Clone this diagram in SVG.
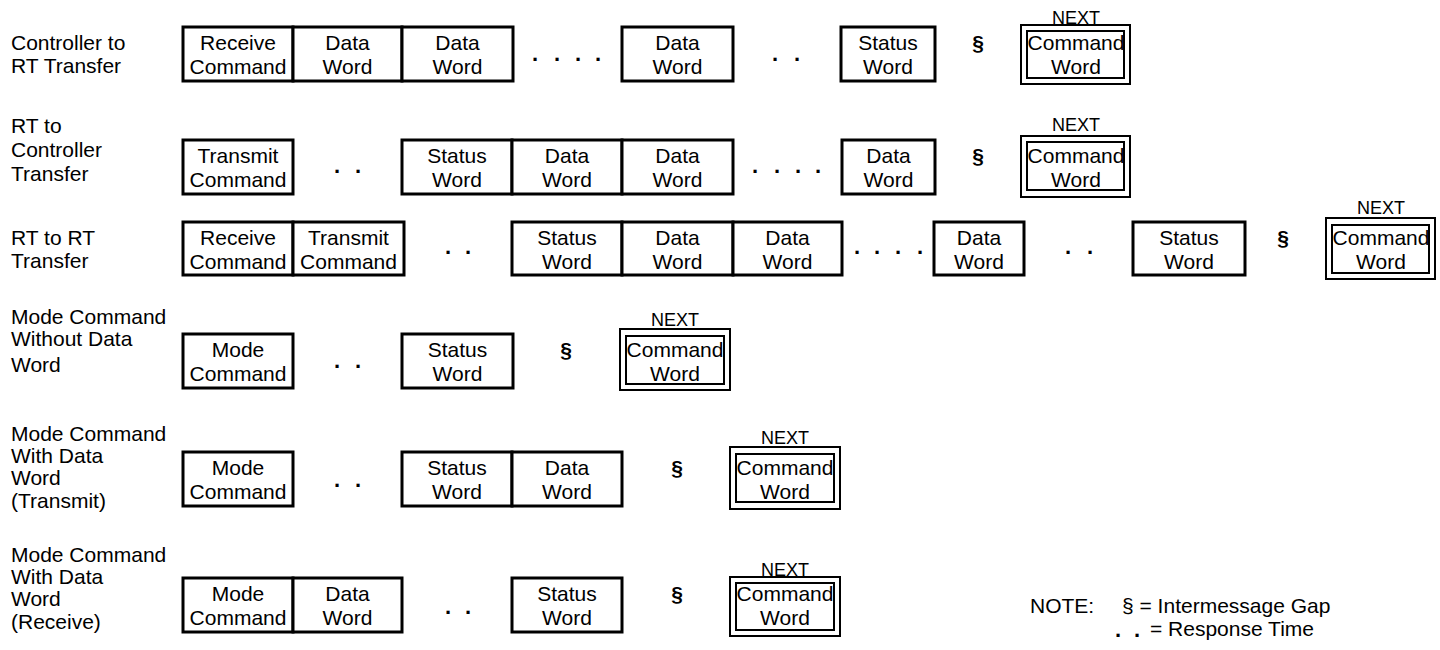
<svg xmlns="http://www.w3.org/2000/svg" width="1440" height="650" viewBox="0 0 1440 650">
<style>
text{font-family:"Liberation Sans",Arial,sans-serif;font-size:21px;fill:#000}
.c{text-anchor:middle}
.b{fill:#fff;stroke:#000;stroke-width:3}
.o{fill:#fff;stroke:#000;stroke-width:2}
.i{fill:none;stroke:#000;stroke-width:2}
.s{font-weight:bold;text-anchor:middle}
.d{font-weight:bold;font-size:22px;text-anchor:middle}
.n{font-size:18px;text-anchor:middle}
</style>
<rect width="1440" height="650" fill="#fff"/>

<g id="labels">
<text x="11" y="50">Controller to</text>
<text x="11" y="73">RT Transfer</text>
<text x="11" y="133">RT to</text>
<text x="11" y="157">Controller</text>
<text x="11" y="181">Transfer</text>
<text x="11" y="245">RT to RT</text>
<text x="11" y="268">Transfer</text>
<text x="11" y="324">Mode Command</text>
<text x="11" y="346">Without Data</text>
<text x="11" y="372">Word</text>
<text x="11" y="441">Mode Command</text>
<text x="11" y="463">With Data</text>
<text x="11" y="485">Word</text>
<text x="11" y="508">(Transmit)</text>
<text x="11" y="562">Mode Command</text>
<text x="11" y="584">With Data</text>
<text x="11" y="606">Word</text>
<text x="11" y="629">(Receive)</text>
</g>

<!-- Row 1 -->
<g id="r1-receive-command"><rect class="b" x="183" y="27" width="110" height="54"/><text class="c" x="238" y="50">Receive</text><text class="c" x="238" y="74">Command</text></g>
<g id="r1-data-1"><rect class="b" x="293" y="27" width="109" height="54"/><text class="c" x="347.5" y="50">Data</text><text class="c" x="347.5" y="74">Word</text></g>
<g id="r1-data-2"><rect class="b" x="402" y="27" width="111" height="54"/><text class="c" x="457.5" y="50">Data</text><text class="c" x="457.5" y="74">Word</text></g>
<text class="d" x="535 557 578 598" y="61">....</text>
<g id="r1-data-n"><rect class="b" x="622" y="27" width="111" height="54"/><text class="c" x="677.5" y="50">Data</text><text class="c" x="677.5" y="74">Word</text></g>
<text class="d" x="775 797" y="61">..</text>
<g id="r1-status"><rect class="b" x="841" y="27" width="94" height="54"/><text class="c" x="888" y="50">Status</text><text class="c" x="888" y="74">Word</text></g>
<text class="s" x="978" y="50">§</text>
<g id="r1-next"><text class="n" x="1076" y="24">NEXT</text><rect class="o" x="1021" y="25" width="109" height="59"/><rect class="i" x="1027" y="31" width="97" height="47"/><text class="c" x="1076" y="50">Command</text><text class="c" x="1076" y="74">Word</text></g>

<!-- Row 2 -->
<g id="r2-transmit-command"><rect class="b" x="183" y="140" width="110" height="54"/><text class="c" x="238" y="163">Transmit</text><text class="c" x="238" y="187">Command</text></g>
<text class="d" x="337 358" y="173">..</text>
<g id="r2-status"><rect class="b" x="402" y="140" width="110" height="54"/><text class="c" x="457" y="163">Status</text><text class="c" x="457" y="187">Word</text></g>
<g id="r2-data-1"><rect class="b" x="512" y="140" width="110" height="54"/><text class="c" x="567" y="163">Data</text><text class="c" x="567" y="187">Word</text></g>
<g id="r2-data-2"><rect class="b" x="622" y="140" width="111" height="54"/><text class="c" x="677.5" y="163">Data</text><text class="c" x="677.5" y="187">Word</text></g>
<text class="d" x="755 777 798 818" y="173">....</text>
<g id="r2-data-n"><rect class="b" x="842" y="140" width="93" height="54"/><text class="c" x="888.5" y="163">Data</text><text class="c" x="888.5" y="187">Word</text></g>
<text class="s" x="978" y="163">§</text>
<g id="r2-next"><text class="n" x="1076" y="131">NEXT</text><rect class="o" x="1021" y="136" width="109" height="61"/><rect class="i" x="1027" y="142" width="97" height="48"/><text class="c" x="1076" y="163">Command</text><text class="c" x="1076" y="187">Word</text></g>

<!-- Row 3 -->
<g id="r3-receive-command"><rect class="b" x="183" y="222" width="110" height="53"/><text class="c" x="238" y="245">Receive</text><text class="c" x="238" y="269">Command</text></g>
<g id="r3-transmit-command"><rect class="b" x="293" y="222" width="111" height="53"/><text class="c" x="348.5" y="245">Transmit</text><text class="c" x="348.5" y="269">Command</text></g>
<text class="d" x="448 468" y="254">..</text>
<g id="r3-status-1"><rect class="b" x="512" y="222" width="110" height="53"/><text class="c" x="567" y="245">Status</text><text class="c" x="567" y="269">Word</text></g>
<g id="r3-data-1"><rect class="b" x="622" y="222" width="111" height="53"/><text class="c" x="677.5" y="245">Data</text><text class="c" x="677.5" y="269">Word</text></g>
<g id="r3-data-2"><rect class="b" x="733" y="222" width="109" height="53"/><text class="c" x="787.5" y="245">Data</text><text class="c" x="787.5" y="269">Word</text></g>
<text class="d" x="857 877 898 920" y="254">....</text>
<g id="r3-data-n"><rect class="b" x="934" y="222" width="90" height="53"/><text class="c" x="979" y="245">Data</text><text class="c" x="979" y="269">Word</text></g>
<text class="d" x="1068 1090" y="254">..</text>
<g id="r3-status-2"><rect class="b" x="1133" y="222" width="112" height="53"/><text class="c" x="1189" y="245">Status</text><text class="c" x="1189" y="269">Word</text></g>
<text class="s" x="1283" y="245">§</text>
<g id="r3-next"><text class="n" x="1381" y="214">NEXT</text><rect class="o" x="1326" y="218" width="109" height="61"/><rect class="i" x="1332" y="225" width="97" height="48"/><text class="c" x="1381" y="245">Command</text><text class="c" x="1381" y="269">Word</text></g>

<!-- Row 4 -->
<g id="r4-mode-command"><rect class="b" x="183" y="334" width="110" height="54"/><text class="c" x="238" y="357">Mode</text><text class="c" x="238" y="381">Command</text></g>
<text class="d" x="337 358" y="368">..</text>
<g id="r4-status"><rect class="b" x="402" y="334" width="111" height="54"/><text class="c" x="457.5" y="357">Status</text><text class="c" x="457.5" y="381">Word</text></g>
<text class="s" x="566" y="357">§</text>
<g id="r4-next"><text class="n" x="675" y="326">NEXT</text><rect class="o" x="620" y="329" width="110" height="61"/><rect class="i" x="626" y="336" width="98" height="48"/><text class="c" x="675" y="357">Command</text><text class="c" x="675" y="381">Word</text></g>

<!-- Row 5 -->
<g id="r5-mode-command"><rect class="b" x="183" y="452" width="110" height="54"/><text class="c" x="238" y="475">Mode</text><text class="c" x="238" y="499">Command</text></g>
<text class="d" x="337 358" y="487">..</text>
<g id="r5-status"><rect class="b" x="402" y="452" width="110" height="54"/><text class="c" x="457" y="475">Status</text><text class="c" x="457" y="499">Word</text></g>
<g id="r5-data"><rect class="b" x="512" y="452" width="110" height="54"/><text class="c" x="567" y="475">Data</text><text class="c" x="567" y="499">Word</text></g>
<text class="s" x="677" y="475">§</text>
<g id="r5-next"><text class="n" x="785" y="444">NEXT</text><rect class="o" x="730" y="447" width="110" height="62"/><rect class="i" x="736" y="454" width="98" height="48"/><text class="c" x="785" y="475">Command</text><text class="c" x="785" y="499">Word</text></g>

<!-- Row 6 -->
<g id="r6-mode-command"><rect class="b" x="183" y="578" width="110" height="54"/><text class="c" x="238" y="601">Mode</text><text class="c" x="238" y="625">Command</text></g>
<g id="r6-data"><rect class="b" x="293" y="578" width="109" height="54"/><text class="c" x="347.5" y="601">Data</text><text class="c" x="347.5" y="625">Word</text></g>
<text class="d" x="448 468" y="614">..</text>
<g id="r6-status"><rect class="b" x="512" y="578" width="110" height="54"/><text class="c" x="567" y="601">Status</text><text class="c" x="567" y="625">Word</text></g>
<text class="s" x="677" y="601">§</text>
<g id="r6-next"><text class="n" x="785" y="576">NEXT</text><rect class="o" x="730" y="577" width="110" height="59"/><rect class="i" x="736" y="583" width="98" height="47"/><text class="c" x="785" y="601">Command</text><text class="c" x="785" y="625">Word</text></g>

<g id="connectors"></g>

<g id="legend">
<text x="1030" y="613">NOTE:</text>
<text x="1122" y="613">§ = Intermessage Gap</text>
<text class="d" x="1118 1137" y="637">..</text>
<text x="1150" y="636">= Response Time</text>
</g>
</svg>
